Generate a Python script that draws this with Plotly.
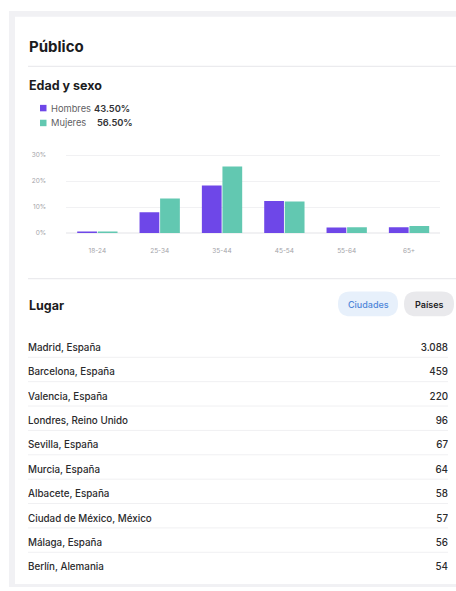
import plotly.graph_objects as go

W, H = 456, 591

# ---------------- data ----------------
age_groups = ["18-24", "25-34", "35-44", "45-54", "55-64", "65+"]
hombres = [0.4, 8.0, 18.3, 12.3, 2.1, 2.2]
mujeres = [0.4, 13.3, 25.6, 12.2, 2.2, 2.7]
gender_labels = ["Hombres", "Mujeres"]
gender_totals = ["43.50%", "56.50%"]
y_ticks = [0, 10, 20, 30]

places = ["Madrid, España", "Barcelona, España", "Valencia, España",
          "Londres, Reino Unido", "Sevilla, España", "Murcia, España",
          "Albacete, España", "Ciudad de México, México", "Málaga, España",
          "Berlín, Alemania"]
place_values = [3088, 459, 220, 96, 67, 64, 58, 57, 56, 54]

# ---------------- style ----------------
PURPLE = "#6E47E8"
GREEN = "#62C8B1"
FONT = "Inter"
DARK = "#1c1c1e"


def px(x):
    return x / W


def py(y):
    return 1 - y / H


def rounded(x0, y0, x1, y1, r):
    X0, X1 = px(x0), px(x1)
    Y0, Y1 = py(y0), py(y1)
    rx, ry = r / W, r / H
    return (f"M {X0+rx},{Y0} L {X1-rx},{Y0} Q {X1},{Y0} {X1},{Y0-ry} "
            f"L {X1},{Y1+ry} Q {X1},{Y1} {X1-rx},{Y1} L {X0+rx},{Y1} "
            f"Q {X0},{Y1} {X0},{Y1+ry} L {X0},{Y0-ry} Q {X0},{Y0} {X0+rx},{Y0} Z")


fig = go.Figure()

fig.add_trace(go.Bar(x=age_groups, y=hombres, name=gender_labels[0],
                     marker=dict(color=PURPLE, line=dict(width=0)),
                     xaxis="x", yaxis="y", hoverinfo="skip"))
fig.add_trace(go.Bar(x=age_groups, y=mujeres, name=gender_labels[1],
                     marker=dict(color=GREEN, line=dict(width=0)),
                     xaxis="x", yaxis="y", hoverinfo="skip"))

ROW0, ROWH = 350.5, 24.58
idx = list(range(len(places)))
fig.add_trace(go.Scatter(x=[0] * len(places), y=idx, text=places, mode="text",
                         textposition="middle right",
                         textfont=dict(family=FONT, size=9.8, color="#2a2a2c", weight=500),
                         xaxis="x2", yaxis="y2", hoverinfo="skip", showlegend=False))
fig.add_trace(go.Scatter(x=[1] * len(places), y=idx,
                         text=[f"{v:,}".replace(",", ".") for v in place_values],
                         mode="text", textposition="middle left",
                         textfont=dict(family=FONT, size=9.8, color="#2a2a2c", weight=500),
                         xaxis="x2", yaxis="y2", hoverinfo="skip", showlegend=False))

shapes = []
# page frame + card
shapes.append(dict(type="rect", xref="paper", yref="paper", x0=px(9), x1=px(W), y0=py(591), y1=py(10),
                   fillcolor="#f1f1f4", line=dict(width=0), layer="below"))
shapes.append(dict(type="rect", xref="paper", yref="paper", x0=px(15), x1=px(W), y0=py(588), y1=py(16),
                   fillcolor="#ffffff", line=dict(width=0), layer="below"))
# separators
for yy in (66, 280):
    shapes.append(dict(type="line", xref="paper", yref="paper", x0=px(28), x1=px(W), y0=py(yy), y1=py(yy),
                       line=dict(color="#ebebee", width=1.2), layer="below"))
# row separators
for i in idx[:-1]:
    shapes.append(dict(type="line", xref="x2", yref="y2", x0=0, x1=1, y0=i + 0.36, y1=i + 0.36,
                       line=dict(color="#f0f0f2", width=1), layer="below"))
# pills
shapes.append(dict(type="path", xref="paper", yref="paper", path=rounded(338, 293, 398, 318, 12.5),
                   fillcolor="#e7f0fb", line=dict(width=0), layer="below"))
shapes.append(dict(type="path", xref="paper", yref="paper", path=rounded(404, 293, 454, 318, 12.5),
                   fillcolor="#e9e9ec", line=dict(width=0), layer="below"))
# legend squares
for k, c in enumerate([PURPLE, GREEN]):
    yc = 108 + k * 15
    shapes.append(dict(type="rect", xref="paper", yref="paper", x0=px(40), x1=px(46.5),
                       y0=py(yc + 3.25), y1=py(yc - 3.25), fillcolor=c, line=dict(width=0)))

ann = []


def text(x, y, s, size, color, weight=400, xanchor="left"):
    ann.append(dict(x=px(x), y=py(y), xref="paper", yref="paper", text=s, showarrow=False,
                    xanchor=xanchor, yanchor="middle",
                    font=dict(family=FONT, size=size, color=color, weight=weight)))


text(27, 46, "Público", 15, DARK, 700)
text(27, 85, "Edad y sexo", 12.5, DARK, 700)
text(49, 108, gender_labels[0], 9.3, "#5f5f64", 400)
text(92, 108, gender_totals[0], 9.3, "#333336", 600)
text(49, 123, gender_labels[1], 9.3, "#5f5f64", 400)
text(94.5, 123, gender_totals[1], 9.3, "#333336", 600)
text(27, 307, "Lugar", 12.5, DARK, 700)
text(368, 306, "Ciudades", 9, "#4f86d9", 500, "center")
text(429, 306, "Países", 9, "#222224", 600, "center")

fig.update_layout(
    width=W, height=H, margin=dict(l=0, r=0, t=0, b=0),
    paper_bgcolor="#ffffff", plot_bgcolor="rgba(0,0,0,0)",
    showlegend=False, barmode="group", bargap=0.34, bargroupgap=0.04,
    font=dict(family=FONT),
    shapes=shapes, annotations=ann,
    xaxis=dict(domain=[px(66.2), px(440.2)], type="category", showgrid=False, zeroline=False,
               showline=False, ticks="", tickfont=dict(size=6.5, color="#a3a3a8"),
               ticklabelstandoff=12, fixedrange=True, anchor="y"),
    yaxis=dict(domain=[py(234), py(152.9)], range=[0, 31], tickvals=y_ticks,
               ticktext=[f"{v}%" for v in y_ticks], showgrid=True, gridcolor="#f1f1f3",
               gridwidth=1, zeroline=True, zerolinecolor="#f1f1f3", showline=False, ticks="",
               tickfont=dict(size=6.5, color="#a3a3a8"), ticklabelstandoff=19,
               fixedrange=True, anchor="x"),
    xaxis2=dict(domain=[px(28), px(448)], range=[0, 1], visible=False, fixedrange=True, anchor="y2"),
    yaxis2=dict(domain=[py(ROW0 + ROWH * 9.5), py(ROW0 - ROWH * 0.5)], range=[9.5, -0.5],
                visible=False, fixedrange=True, anchor="x2"),
)

fig.write_html("out.html", config={"displayModeBar": False},
               post_script="document.body.style.margin='0';document.body.style.overflow='hidden';")
